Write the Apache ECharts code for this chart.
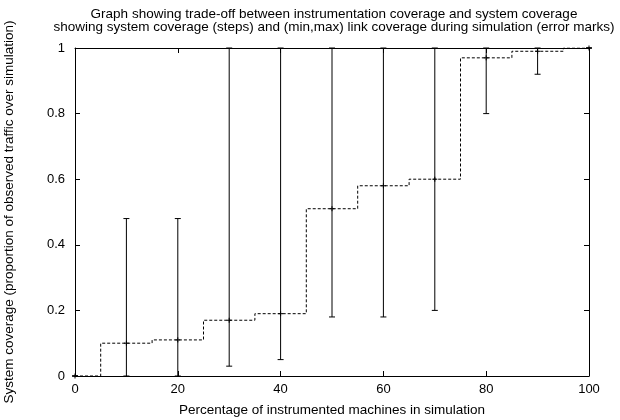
<!DOCTYPE html>
<html>
<head>
<meta charset="utf-8">
<script src="https://cdn.jsdelivr.net/npm/echarts@6/dist/echarts.min.js"></script>
<style>html,body{margin:0;padding:0;background:#fff}#c{width:620px;height:420px}</style>
</head>
<body>
<div id="c"></div>
<script>
// Data
var xValues = [0, 10, 20, 30, 40, 50, 60, 70, 80, 90, 100];
var systemCoverage = [0, 0.10, 0.11, 0.17, 0.19, 0.51, 0.58, 0.60, 0.97, 0.99, 1.0];
var linkMin = [0, 0, 0, 0.03, 0.05, 0.18, 0.18, 0.20, 0.80, 0.92, 1.0];
var linkMax = [0, 0.48, 0.48, 1.0, 1.0, 1.0, 1.0, 1.0, 1.0, 1.0, 1.0];
var xTicks = [0, 20, 40, 60, 80, 100];
var yTicks = [0, 0.2, 0.4, 0.6, 0.8, 1];

var titleText = 'Graph showing trade-off between instrumentation coverage and system coverage\nshowing system coverage (steps) and (min,max) link coverage during simulation (error marks)';
var xName = 'Percentage of instrumented machines in simulation';
var yName = 'System coverage (proportion of observed traffic over simulation)';

var stepData = xValues.map(function (x, i) { return [x, systemCoverage[i]]; });
var errData = xValues.map(function (x, i) { return [x, systemCoverage[i], linkMin[i], linkMax[i]]; });

var font = 'Liberation Sans, Arial, sans-serif';
var fs = 13;
var chart = echarts.init(document.getElementById('c'), null, {renderer: 'canvas'});

function axisCommon() {
  return {
    axisLine: {show: true, onZero: false, lineStyle: {color: '#000', width: 1}},
    axisTick: {show: true, inside: true, length: 5, lineStyle: {color: '#000'}},
    splitLine: {show: false}
  };
}

var option = {
  animation: false,
  backgroundColor: '#fff',
  title: {
    text: titleText,
    left: 329, top: 3,
    textAlign: 'center',
    textStyle: {fontFamily: font, fontSize: 13.5, fontWeight: 'normal', color: '#000', lineHeight: 13}
  },
  grid: {left: 75, right: 31, top: 48, bottom: 44, containLabel: false, outerBoundsMode: 'none'},
  xAxis: [
    Object.assign({type: 'value', min: 0, max: 100, interval: 20, position: 'bottom',
      name: xName, nameLocation: 'middle', nameGap: 27,
      nameTextStyle: {fontFamily: font, fontSize: 13.5, color: '#000'},
      axisLabel: {show: true, color: '#000', fontFamily: font, fontSize: fs, margin: 7}}, axisCommon()),
    Object.assign({type: 'value', min: 0, max: 100, interval: 20, position: 'top',
      axisLabel: {show: false}}, axisCommon())
  ],
  yAxis: [
    Object.assign({type: 'value', min: 0, max: 1, interval: 0.2, position: 'left',
      name: yName, nameLocation: 'middle', nameGap: 59,
      nameTextStyle: {fontFamily: font, fontSize: 13.5, color: '#000'},
      axisLabel: {show: true, color: '#000', fontFamily: font, fontSize: fs, margin: 10,
        formatter: function (v) { return String(Math.round(v * 10) / 10); }}}, axisCommon()),
    Object.assign({type: 'value', min: 0, max: 1, interval: 0.2, position: 'right',
      axisLabel: {show: false}}, axisCommon())
  ],
  series: [
    {
      type: 'line',
      data: stepData,
      step: 'middle',
      showSymbol: false,
      clip: true,
      lineStyle: {color: '#000', width: 1, type: [3, 2]},
      z: 3
    },
    {
      type: 'custom',
      data: errData,
      clip: false,
      z: 4,
      renderItem: function (params, api) {
        var x = api.value(0);
        var pMid = api.coord([x, api.value(1)]);
        var pLo = api.coord([x, api.value(2)]);
        var pHi = api.coord([x, api.value(3)]);
        var cap = 3, cr = 2.5;
        var style = {stroke: '#000', lineWidth: 1, fill: null};
        return {
          type: 'group',
          children: [
            {type: 'line', shape: {x1: pLo[0], y1: pLo[1], x2: pHi[0], y2: pHi[1]}, style: style},
            {type: 'line', shape: {x1: pLo[0] - cap, y1: pLo[1], x2: pLo[0] + cap, y2: pLo[1]}, style: style},
            {type: 'line', shape: {x1: pHi[0] - cap, y1: pHi[1], x2: pHi[0] + cap, y2: pHi[1]}, style: style},
            {type: 'line', shape: {x1: pMid[0] - cr, y1: pMid[1], x2: pMid[0] + cr, y2: pMid[1]}, style: style},
            {type: 'line', shape: {x1: pMid[0], y1: pMid[1] - cr, x2: pMid[0], y2: pMid[1] + cr}, style: style}
          ]
        };
      }
    }
  ]
};
chart.setOption(option);
</script>
</body>
</html>
